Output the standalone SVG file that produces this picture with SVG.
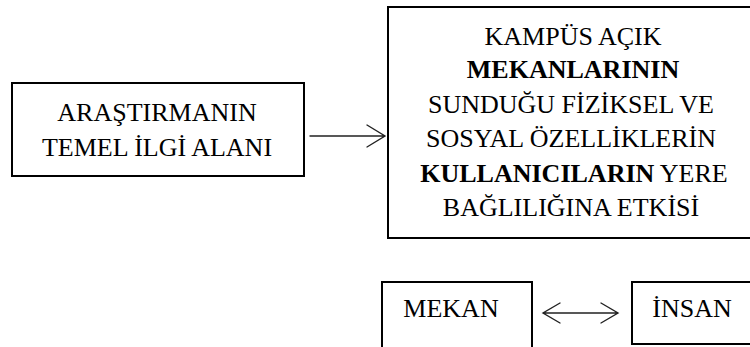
<svg xmlns="http://www.w3.org/2000/svg" width="750" height="347" viewBox="0 0 750 347">
  <style>
    .box { fill: #ffffff; stroke: #000000; stroke-width: 2; }
    .txt { font-family: "Liberation Serif", "Times New Roman", Times, serif; font-size: 26px; fill: #000000; text-anchor: middle; }
    .b { font-weight: bold; }
    .conn { fill: none; stroke: #222222; stroke-width: 1.4; stroke-linecap: round; stroke-linejoin: miter; }
  </style>
  <rect width="750" height="347" fill="#ffffff"/>

  <g id="node-ilgi-alani">
    <rect class="box" x="12" y="83" width="292" height="93"/>
    <text class="txt" x="157" y="121">ARAŞTIRMANIN</text>
    <text class="txt" x="157" y="156">TEMEL İLGİ ALANI</text>
  </g>

  <g id="node-kampus">
    <rect class="box" x="388" y="7" width="370" height="231"/>
    <text class="txt" x="573" y="45">KAMPÜS AÇIK</text>
    <text class="txt b" x="573" y="78">MEKANLARININ</text>
    <text class="txt" x="571" y="113">SUNDUĞU FİZİKSEL VE</text>
    <text class="txt" x="571" y="147">SOSYAL ÖZELLİKLERİN</text>
    <text class="txt" x="574" y="182"><tspan class="b">KULLANICILARIN</tspan> YERE</text>
    <text class="txt" x="571" y="216">BAĞLILIĞINA ETKİSİ</text>
  </g>

  <g id="node-mekan">
    <rect class="box" x="382" y="282" width="150" height="80"/>
    <text class="txt" x="451" y="317">MEKAN</text>
  </g>

  <g id="node-insan">
    <rect class="box" x="632" y="282" width="130" height="62"/>
    <text class="txt" x="692" y="317">İNSAN</text>
  </g>

  <g id="connectors">
    <path class="conn" d="M310,136 H385 M367,125 L385,136 L367,147"/>
    <path class="conn" d="M543,313 H618 M560,303 L543,313 L560,323 M601,303 L618,313 L601,323"/>
  </g>
</svg>
